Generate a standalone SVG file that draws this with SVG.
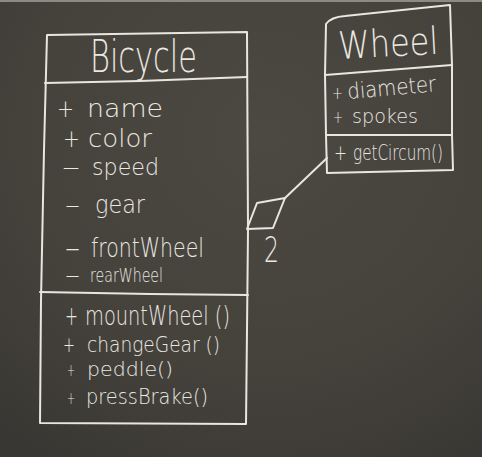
<svg xmlns="http://www.w3.org/2000/svg" width="482" height="457" viewBox="0 0 482 457">
  <defs>
    <radialGradient id="board" cx="0.55" cy="0.3" r="0.85">
      <stop offset="0" stop-color="#4c4842"/>
      <stop offset="0.6" stop-color="#45423c"/>
      <stop offset="1" stop-color="#393733"/>
    </radialGradient>
    <style>
      .line { fill: none; stroke: #e9e6df; stroke-width: 2; stroke-linecap: round; stroke-linejoin: round; }
      .chalk { fill: #ebe8e1; font-family: "DejaVu Sans", "Lato", sans-serif; font-weight: 200; }
    </style>
  </defs>
  <rect x="0" y="0" width="482" height="457" fill="url(#board)"/>
  <rect x="0" y="0" width="482" height="2" fill="#8d8983"/>

  <g id="bicycle">
    <path class="line" d="M47,35 L247,32 M47,35 L44,150 L41,300 L40,423 L245,424 M247,32 L248,230 L247,330 L246,424"/>
    <path class="line" d="M45,83 L140,81 L247,77"/>
    <path class="line" d="M40,292 L150,294 L248,295"/>
    <text class="chalk" x="90" y="72" font-size="44" textLength="107" lengthAdjust="spacingAndGlyphs">Bicycle</text>

    <text class="chalk" x="57" y="117" font-size="25" textLength="17" lengthAdjust="spacingAndGlyphs">+</text>
    <text class="chalk" x="87" y="117" font-size="25" textLength="76" lengthAdjust="spacingAndGlyphs">name</text>

    <text class="chalk" x="63" y="147" font-size="25" textLength="17" lengthAdjust="spacingAndGlyphs">+</text>
    <text class="chalk" x="88" y="147" font-size="25" textLength="64" lengthAdjust="spacingAndGlyphs">color</text>

    <text class="chalk" x="62" y="175" font-size="23" textLength="18" lengthAdjust="spacingAndGlyphs">–</text>
    <text class="chalk" x="92" y="175" font-size="23" textLength="67" lengthAdjust="spacingAndGlyphs">speed</text>

    <text class="chalk" x="65" y="213" font-size="24" textLength="15" lengthAdjust="spacingAndGlyphs">–</text>
    <text class="chalk" x="95" y="213" font-size="24" textLength="50" lengthAdjust="spacingAndGlyphs">gear</text>

    <text class="chalk" x="65" y="257" font-size="26" textLength="15" lengthAdjust="spacingAndGlyphs">–</text>
    <text class="chalk" x="91" y="257" font-size="26" textLength="113" lengthAdjust="spacingAndGlyphs">frontWheel</text>

    <text class="chalk" x="65" y="282" font-size="20" textLength="15" lengthAdjust="spacingAndGlyphs">–</text>
    <text class="chalk" x="90" y="282" font-size="20" textLength="73" lengthAdjust="spacingAndGlyphs">rearWheel</text>

    <text class="chalk" x="65" y="325" font-size="26" textLength="13" lengthAdjust="spacingAndGlyphs">+</text>
    <text class="chalk" x="85" y="325" font-size="26" textLength="145" lengthAdjust="spacingAndGlyphs">mountWheel ()</text>

    <text class="chalk" x="63" y="352" font-size="22" textLength="12" lengthAdjust="spacingAndGlyphs">+</text>
    <text class="chalk" x="87" y="352" font-size="22" textLength="133" lengthAdjust="spacingAndGlyphs">changeGear ()</text>

    <text class="chalk" x="67" y="376" font-size="18" textLength="8" lengthAdjust="spacingAndGlyphs">+</text>
    <text class="chalk" x="87" y="376" font-size="20" textLength="86" lengthAdjust="spacingAndGlyphs">peddle()</text>

    <text class="chalk" x="67" y="404" font-size="18" textLength="8" lengthAdjust="spacingAndGlyphs">+</text>
    <text class="chalk" x="86" y="404" font-size="22" textLength="122" lengthAdjust="spacingAndGlyphs">pressBrake()</text>
  </g>

  <g id="wheel">
    <path class="line" d="M326,24 Q331,17 345,16 L450,5 M326,24 L325,75 L326,135 L327,173 L453,170 M450,5 L452,65 L452,135 L453,170"/>
    <path class="line" d="M325,75 L452,65"/>
    <path class="line" d="M326,135 L452,135"/>
    <text class="chalk" x="339" y="59" font-size="38" textLength="100" lengthAdjust="spacingAndGlyphs" transform="rotate(-3 339 59)">Wheel</text>

    <text class="chalk" x="332" y="99" font-size="18" textLength="11" lengthAdjust="spacingAndGlyphs">+</text>
    <text class="chalk" x="348" y="99" font-size="22" textLength="89" lengthAdjust="spacingAndGlyphs" transform="rotate(-5 348 99)">diameter</text>

    <text class="chalk" x="333" y="123" font-size="18" textLength="10" lengthAdjust="spacingAndGlyphs">+</text>
    <text class="chalk" x="352" y="123" font-size="20" textLength="66" lengthAdjust="spacingAndGlyphs">spokes</text>

    <text class="chalk" x="334" y="160" font-size="22" textLength="13" lengthAdjust="spacingAndGlyphs">+</text>
    <text class="chalk" x="353" y="160" font-size="22" textLength="90" lengthAdjust="spacingAndGlyphs">getCircum()</text>
  </g>

  <g id="connectors">
    <path class="line" d="M327,158 L285,198"/>
    <path class="line" d="M285,198 L257,203 L247,229 L273,228 Z"/>
    <text class="chalk" x="264" y="262" font-size="36" textLength="15" lengthAdjust="spacingAndGlyphs">2</text>
  </g>
</svg>
